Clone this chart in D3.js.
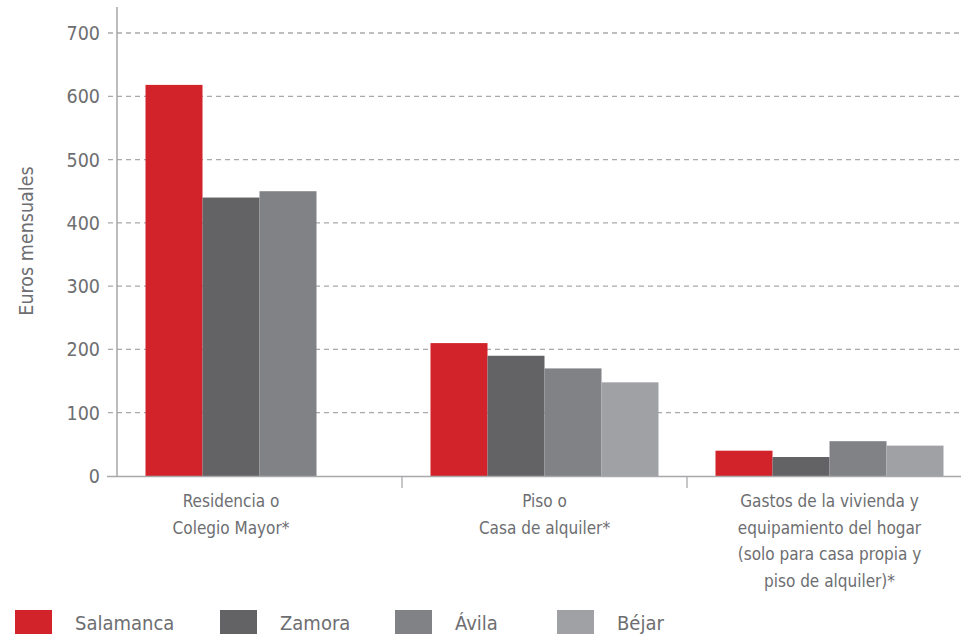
<!DOCTYPE html>
<html>
<head>
<meta charset="utf-8">
<script src="https://cdn.jsdelivr.net/npm/d3@7"></script>
<style>
  html, body { margin: 0; padding: 0; background: #fff; }
  svg { display: block; }
  text { font-family: "DejaVu Sans Condensed", "DejaVu Sans", sans-serif; fill: #6d6e71; }
</style>
</head>
<body>
<svg id="chart" width="961" height="636"></svg>
<script>
// Monthly housing spend (euros) by city and type of accommodation
const categories = [
  ["Residencia o", "Colegio Mayor*"],
  ["Piso o", "Casa de alquiler*"],
  ["Gastos de la vivienda y", "equipamiento del hogar", "(solo para casa propia y", "piso de alquiler)*"]
];
const seriesNames = ["Salamanca", "Zamora", "Ávila", "Béjar"];
const salamanca = [618, 210, 40];
const zamora = [440, 190, 30];
const avila = [450, 170, 55];
const bejar = [null, 148, 48];
const yTicks = [0, 100, 200, 300, 400, 500, 600, 700];
const colors = ["#d2232a", "#636365", "#818285", "#a0a1a4"];

(function draw() {
  const seriesValues = [salamanca, zamora, avila, bejar];
  const rows = categories.map((c, i) => ({
    key: i,
    lines: c,
    values: seriesNames.map((s, j) => ({ series: s, idx: j, value: seriesValues[j][i] }))
  }));

  const svg = d3.select("#chart");
  const plotLeft = 117, plotRight = 961, plotTop = 7, plotBottom = 476;

  const y = d3.scaleLinear().domain([0, 700]).range([plotBottom, 33]);
  const x0 = d3.scaleBand().domain(rows.map(r => r.key)).range([plotLeft, 972]).paddingInner(0);
  const groupW = x0.bandwidth() * 0.8;
  const groupOff = (x0.bandwidth() - groupW) / 2;
  const x1 = d3.scaleBand().domain(d3.range(seriesNames.length)).range([0, groupW]);

  // dashed gridlines
  svg.append("g")
    .selectAll("line")
    .data(yTicks.filter(t => t > 0))
    .join("line")
    .attr("x1", 108).attr("x2", plotRight)
    .attr("y1", d => y(d)).attr("y2", d => y(d))
    .attr("stroke", "#a7a9ac")
    .attr("stroke-width", 1.3)
    .attr("stroke-dasharray", "5,4");

  // y tick labels
  svg.append("g")
    .selectAll("text")
    .data(yTicks)
    .join("text")
    .attr("x", 100)
    .attr("y", d => y(d))
    .attr("dy", "0.36em")
    .attr("text-anchor", "end")
    .style("font-size", "19.5px")
    .text(d => d);

  // axis title
  svg.append("text")
    .attr("transform", "translate(33, 241) rotate(-90)")
    .attr("text-anchor", "middle")
    .style("font-size", "19.5px")
    .text("Euros mensuales");

  // bars
  const groups = svg.append("g")
    .selectAll("g")
    .data(rows)
    .join("g")
    .attr("transform", d => `translate(${x0(d.key) + groupOff},0)`);

  groups.selectAll("rect")
    .data(d => d.values.filter(v => v.value != null))
    .join("rect")
    .attr("x", d => x1(d.idx))
    .attr("width", x1.bandwidth())
    .attr("y", d => y(d.value))
    .attr("height", d => y(0) - y(d.value))
    .attr("fill", d => colors[d.idx]);

  // axis lines
  svg.append("line")
    .attr("x1", plotLeft).attr("x2", plotLeft)
    .attr("y1", plotTop).attr("y2", plotBottom)
    .attr("stroke", "#999").attr("stroke-width", 1.3);
  svg.append("line")
    .attr("x1", 107).attr("x2", plotRight)
    .attr("y1", plotBottom + 0.5).attr("y2", plotBottom + 0.5)
    .attr("stroke", "#a7a9ac").attr("stroke-width", 1.5);

  // category separators
  svg.append("g")
    .selectAll("line")
    .data(rows.slice(1))
    .join("line")
    .attr("x1", d => x0(d.key)).attr("x2", d => x0(d.key))
    .attr("y1", plotBottom).attr("y2", plotBottom + 12)
    .attr("stroke", "#a7a9ac").attr("stroke-width", 1.3);

  // category labels, centred under the bars each group draws
  svg.append("g")
    .selectAll("text")
    .data(rows)
    .join("text")
    .attr("text-anchor", "middle")
    .style("font-size", "17px")
    .each(function(d) {
      const present = d.values.filter(v => v.value != null);
      const cx = x0(d.key) + groupOff +
        (x1(present[0].idx) + x1(present[present.length - 1].idx) + x1.bandwidth()) / 2;
      d3.select(this).selectAll("tspan")
        .data(d.lines)
        .join("tspan")
        .attr("x", cx)
        .attr("y", (l, i) => 507 + i * 26.5)
        .text(l => l);
    });

  // legend
  const legendX = [0, 205, 380, 542];
  const legend = svg.append("g").attr("transform", "translate(15,610)");
  seriesNames.forEach((name, i) => {
    const g = legend.append("g").attr("transform", `translate(${legendX[i]},0)`);
    g.append("rect").attr("width", 37).attr("height", 24).attr("fill", colors[i]);
    g.append("text")
      .attr("x", 60).attr("y", 20)
      .style("font-size", "20px")
      .text(name);
  });
})();
</script>
</body>
</html>
